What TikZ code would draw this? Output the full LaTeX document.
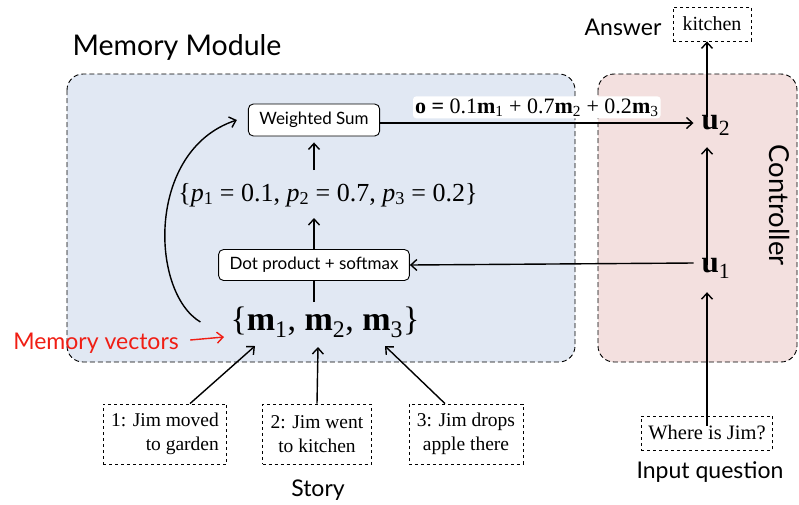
\documentclass[tikz,border=0pt]{standalone}
\usepackage{fontspec}
\setsansfont{Lato}
\setmainfont{Liberation Serif}
\usetikzlibrary{positioning, arrows.meta}

\definecolor{memblue}{RGB}{225,232,243}
\definecolor{ctrlpink}{RGB}{243,224,223}
\definecolor{vecred}{RGB}{240,30,20}

% bold vector with subscript, text mode
\newcommand{\bvec}[2]{\textbf{#1}\textsubscript{#2}}

\begin{document}
\begin{tikzpicture}[x=1pt, y=1pt,
    % Region styles
    module/.style={draw, dash pattern=on 5pt off 3pt, line width=0.9pt, rounded corners=16pt},
    % Node styles
    opbox/.style={draw, fill=white, rounded corners=5pt, line width=0.9pt, inner xsep=11pt, minimum height=32pt, font=\sffamily\fontsize{17}{20}\selectfont},
    sentence/.style={draw, dashed, line width=0.8pt, inner xsep=8pt, minimum height=60pt, align=center, font=\fontsize{19.5}{24}\selectfont},
    caption/.style={font=\sffamily\fontsize{23}{26}\selectfont},
    mathtxt/.style={inner sep=2pt},
    % Edge styles
    flow/.style={-{Straight Barb[length=6pt, width=11pt]}, line width=1.4pt},
    plain/.style={line width=1.4pt}
]
\useasboundingbox (0,0) rectangle (799,-504);
% Regions
\draw[module, fill=memblue] (67,-74) rectangle (575,-362);
\draw[module, fill=ctrlpink] (598,-74) rectangle (797,-362);
\node[caption, font=\sffamily\fontsize{28.5}{32}\selectfont] (memtitle) at (177,-47) {Memory Module};
\node[caption, font=\sffamily\fontsize{27.5}{30}\selectfont, rotate=-90] (ctrl) at (780,-205) {Controller};
% Memory module nodes
\node[opbox] (wsum) at (314,-120) {Weighted Sum};
\node[mathtxt] (pset) at (328,-195) {\fontsize{26}{30}\selectfont \{\textit{p}\textsubscript{1} = 0.1, \textit{p}\textsubscript{2} = 0.7, \textit{p}\textsubscript{3} = 0.2\}};
\node[opbox, minimum height=31pt] (dot) at (314,-265) {Dot product + softmax};
\node[mathtxt] (mset) at (325,-322) {\fontsize{34}{38}\selectfont \{\bvec{m}{1}, \bvec{m}{2}, \bvec{m}{3}\}};
\node[caption, text=vecred] (mvec) at (96,-343) {Memory vectors};
\coordinate (mvtip) at (224,-337);
% Controller nodes
\node[mathtxt] (u2) at (716,-125) {\fontsize{31}{34}\selectfont \bvec{u}{2}};
\node[mathtxt] (u1) at (716,-268) {\fontsize{31}{34}\selectfont \bvec{u}{1}};
\node[sentence, minimum height=34pt, minimum width=78pt, inner xsep=4pt, font=\fontsize{20}{24}\selectfont] (kitchen) at (712,-24) {kitchen};
\node[caption] (answer) at (623,-27) {Answer};
% Story and question
\node[sentence, align=right] (s1) at (165,-434) {1: Jim moved\\to garden};
\node[sentence] (s2) at (317,-434) {2: Jim went\\to kitchen};
\node[sentence] (s3) at (466,-434) {3: Jim drops\\apple there};
\node[caption] (story) at (318,-490) {Story};
\node[sentence, minimum height=34pt, inner xsep=7pt, font=\fontsize{20.5}{24}\selectfont] (question) at (707,-433) {Where is Jim?};
\node[caption] (inq) at (710,-472) {Input question};
% Story to memory
\draw[flow] ([xshift=25pt]s1.north) -- ([xshift=-70pt, yshift=-24pt]mset.center);
\draw[flow] (s2.north) -- ([xshift=-7pt, yshift=-25pt]mset.center);
\draw[flow] ([xshift=-21pt]s3.north) -- ([xshift=60pt, yshift=-24pt]mset.center);
\draw[flow, draw=vecred] ([xshift=8pt, yshift=3pt]mvec.east) -- (mvtip);
% Attention path
\draw[plain] ([xshift=-11pt, yshift=20pt]mset.center) -- (dot.south);
\draw[flow] (dot.north) -- ([yshift=-23pt]dot.north |- pset.center);
\draw[flow] ([yshift=25pt]dot.north |- pset.center) -- ([yshift=-6pt]wsum.south);
\draw[flow] ([xshift=-28pt]mset.west) .. controls (150,-292) and (146,-150) .. ([xshift=-11pt]wsum.west);
% Controller links
\draw[flow] ([yshift=-10pt]question.north) -- ([yshift=-12pt]question.north |- u1.south);
\draw[flow] ([xshift=-6pt, yshift=5pt]u1.west) -- (dot.east);
\draw[flow] ([yshift=-9pt]question.north |- u1.north) -- ([yshift=-10pt]question.north |- u2.south);
\draw[flow] ([yshift=-4pt]question.north |- u2.north) -- (question.north |- kitchen.south);
\draw[flow] ([yshift=-3pt]wsum.east) -- ([xshift=-6pt, yshift=2pt]u2.west)
    node[midway, above, fill=white, rounded corners=3pt, inner sep=2pt, yshift=4pt] (oeq) {\fontsize{22}{26}\selectfont \textbf{o =} 0.1\bvec{m}{1} + 0.7\bvec{m}{2} + 0.2\bvec{m}{3}};
\end{tikzpicture}
\end{document}
